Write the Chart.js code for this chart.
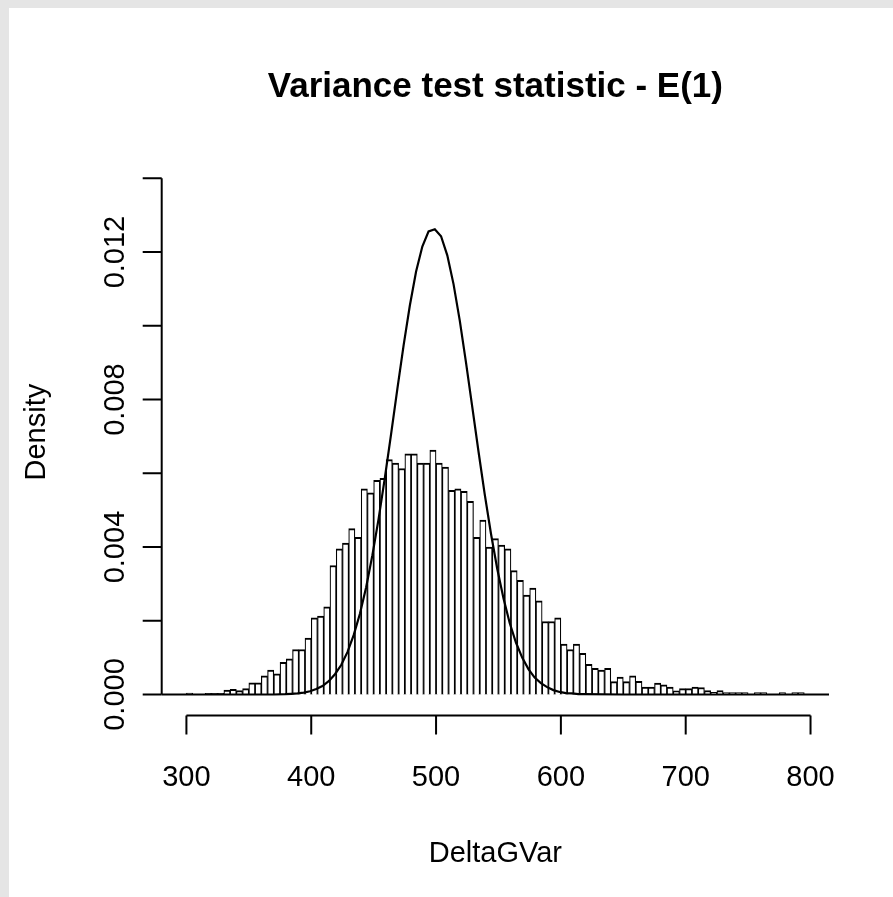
<html>
    <head>
        <meta charset="UTF-8">
        <script src="https://cdn.jsdelivr.net/npm/chart.js@4.4.1/dist/chart.umd.min.js"></script>
        <style>
            body { margin: 0; background: #e5e5e5; overflow: hidden; }
            .plot-box { position: absolute; left: 9px; top: 8px; width: 884px; height: 889px; background: #fff; }
        </style>
        <script>
            // histogram: bins of width 5 starting at 300
            var binStart = 300;
            var binWidth = 5;
            var density = [
                0.00004, 0, 0, 0.00003, 0.00003, 0.00003, 0.00012, 0.00014, 0.00011, 0.00016,
                0.00032, 0.00032, 0.00051, 0.00066, 0.00056, 0.00087, 0.00097, 0.00122, 0.00122, 0.00153,
                0.00208, 0.00213, 0.00238, 0.00350, 0.00395, 0.00411, 0.00450, 0.00426, 0.00558, 0.00547,
                0.00581, 0.00586, 0.00637, 0.00628, 0.00613, 0.00653, 0.00653, 0.00628, 0.00628, 0.00663,
                0.00628, 0.00617, 0.00554, 0.00558, 0.00551, 0.00524, 0.00426, 0.00473, 0.00400, 0.00423,
                0.00405, 0.00395, 0.00336, 0.00310, 0.00270, 0.00289, 0.00254, 0.00198, 0.00198, 0.00208,
                0.00137, 0.00122, 0.00137, 0.00112, 0.00082, 0.00071, 0.00066, 0.00071, 0.00035, 0.00047,
                0.00035, 0.00051, 0.00036, 0.00020, 0.00020, 0.00031, 0.00026, 0.00020, 0.00010, 0.00016,
                0.00016, 0.00020, 0.00019, 0.00011, 0.00006, 0.00011, 0.00005, 0.00005, 0.00005, 0.00005,
                0, 0.00005, 0.00005, 0, 0, 0.00005, 0, 0.00005, 0.00005
            ];

            // overlaid density curve
            var curveX = [280, 340, 370, 379, 384, 389, 394, 399, 404, 409, 414, 419, 424, 429, 434, 439, 444, 449,
                454, 459, 464, 469, 474, 479, 484, 489, 494, 499, 504, 509, 514, 519, 524, 529, 534, 539,
                544, 549, 554, 559, 564, 569, 574, 579, 584, 589, 594, 599, 604, 609, 614, 619, 650, 815];
            var curveY = [0, 0, 0, 0.00001, 0.00002, 0.00003, 0.00005, 0.00009, 0.00015, 0.00023, 0.00036, 0.00055,
                0.00080, 0.00115, 0.00161, 0.00219, 0.00291, 0.00378, 0.00477, 0.00588, 0.00707, 0.00829,
                0.00947, 0.01055, 0.01147, 0.01215, 0.01256, 0.01262, 0.01243, 0.01191, 0.01113, 0.01014,
                0.00900, 0.00780, 0.00659, 0.00543, 0.00436, 0.00341, 0.00261, 0.00194, 0.00141, 0.00100,
                0.00069, 0.00046, 0.00031, 0.00020, 0.00012, 0.00007, 0.00004, 0.00003, 0.00001, 0.00001, 0, 0];

            var xTicks = [300, 400, 500, 600, 700, 800];
            var yTicks = [0, 0.002, 0.004, 0.006, 0.008, 0.010, 0.012, 0.014];
            var yLabels = ["0.000", "", "0.004", "", "0.008", "", "0.012", ""];

            var titleText = "Variance test statistic - E(1)";
            var xTitle = "DeltaGVar";
            var yTitle = "Density";

            var FONT = '"Liberation Sans", Arial, Helvetica, sans-serif';

            // R style axes: lines only span the tick range
            var rAxes = {
                id: 'rAxes',
                afterDraw: function(chart){
                    var ctx = chart.ctx, a = chart.chartArea;
                    var xs = chart.scales.x, ys = chart.scales.y;
                    ctx.save();
                    ctx.strokeStyle = '#000';
                    ctx.fillStyle = '#000';
                    ctx.lineWidth = 2;

                    // x axis
                    var yb = a.bottom;
                    ctx.beginPath();
                    ctx.moveTo(xs.getPixelForValue(xTicks[0]), yb);
                    ctx.lineTo(xs.getPixelForValue(xTicks[xTicks.length - 1]), yb);
                    xTicks.forEach(function(v){
                        var p = xs.getPixelForValue(v);
                        ctx.moveTo(p, yb);
                        ctx.lineTo(p, yb + 19);
                    });
                    ctx.stroke();
                    ctx.font = '29px ' + FONT;
                    ctx.textAlign = 'center';
                    ctx.textBaseline = 'alphabetic';
                    xTicks.forEach(function(v){
                        ctx.fillText(String(v), xs.getPixelForValue(v), yb + 70);
                    });

                    // y axis
                    var xl = a.left;
                    ctx.beginPath();
                    ctx.moveTo(xl, ys.getPixelForValue(yTicks[0]));
                    ctx.lineTo(xl, ys.getPixelForValue(yTicks[yTicks.length - 1]));
                    yTicks.forEach(function(v){
                        var p = ys.getPixelForValue(v);
                        ctx.moveTo(xl, p);
                        ctx.lineTo(xl - 19, p);
                    });
                    ctx.stroke();
                    yTicks.forEach(function(v, i){
                        if(!yLabels[i]) return;
                        ctx.save();
                        ctx.translate(xl - 38, ys.getPixelForValue(v));
                        ctx.rotate(-Math.PI / 2);
                        ctx.fillText(yLabels[i], 0, 0);
                        ctx.restore();
                    });

                    // axis titles
                    var cx = (a.left + a.right) / 2, cy = (a.top + a.bottom) / 2;
                    ctx.fillText(xTitle, cx, yb + 146);
                    ctx.save();
                    ctx.translate(xl - 117, cy);
                    ctx.rotate(-Math.PI / 2);
                    ctx.fillText(yTitle, 0, 0);
                    ctx.restore();

                    // main title
                    ctx.font = 'bold 35px ' + FONT;
                    ctx.fillText(titleText, cx, 89);
                    ctx.restore();
                }
            };

            window.onload = function(){
                var bars = density.map(function(d, i){
                    return {x: binStart + binWidth * i + binWidth / 2, y: d};
                });
                var curve = curveX.map(function(x, i){ return {x: x, y: curveY[i]}; });

                var ctx = document.getElementById('histChart').getContext('2d');
                new Chart(ctx, {
                    type: 'bar',
                    data: {
                        datasets: [{
                            type: 'line',
                            data: curve,
                            borderColor: '#000',
                            borderWidth: 2.2,
                            pointRadius: 0,
                            tension: 0,
                            fill: false,
                            order: 0
                        },
                        {
                            type: 'bar',
                            data: bars,
                            backgroundColor: '#fff',
                            borderColor: '#000',
                            borderWidth: {top: 2, left: 1.2, right: 1.2, bottom: 0},
                            borderSkipped: false,
                            barPercentage: 1,
                            categoryPercentage: 1,
                            order: 1
                        }]
                    },
                    options: {
                        responsive: true,
                        maintainAspectRatio: false,
                        animation: false,
                        layout: { padding: { left: 152.7, right: 64, top: 140.8, bottom: 181.5 } },
                        plugins: { legend: { display: false }, tooltip: { enabled: false }, title: { display: false } },
                        scales: {
                            x: { type: 'linear', min: 280.2, max: 814.8, offset: false, display: false },
                            y: { type: 'linear', min: -0.000569, max: 0.0148, display: false }
                        }
                    },
                    plugins: [rAxes]
                });
            };
        </script>
    </head>
    <body>
        <div class="plot-box">
            <canvas id="histChart"></canvas>
        </div>
    </body>
</html>
